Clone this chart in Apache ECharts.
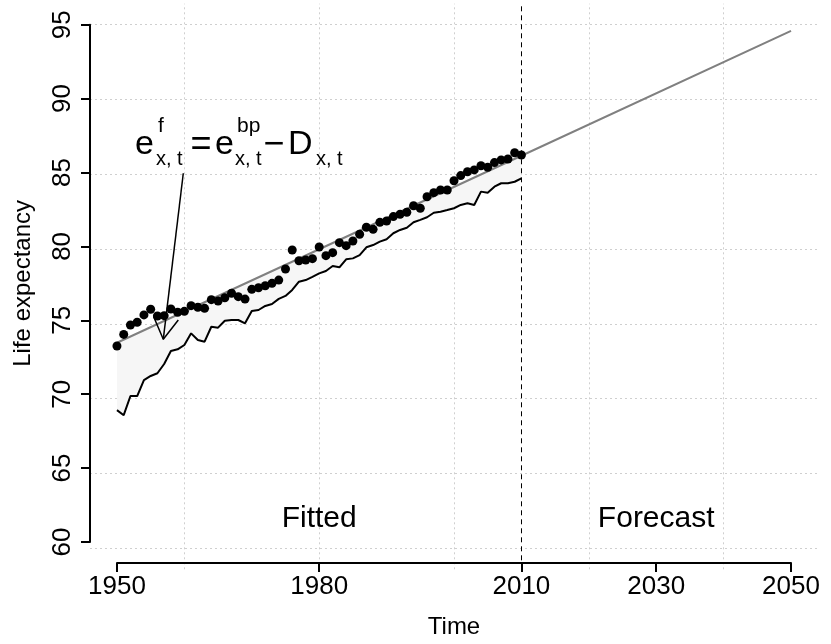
<!DOCTYPE html>
<html>
<head>
<meta charset="utf-8">
<script src="https://cdn.jsdelivr.net/npm/echarts@6/dist/echarts.min.js"></script>
<style>
  html, body { margin: 0; padding: 0; background: #fff; }
  #chart { width: 831px; height: 644px; }
</style>
</head>
<body>
<div id="chart"></div>
<script>
// data
const years = [
  1950, 1951, 1952, 1953, 1954, 1955, 1956, 1957, 1958, 1959,
  1960, 1961, 1962, 1963, 1964, 1965, 1966, 1967, 1968, 1969,
  1970, 1971, 1972, 1973, 1974, 1975, 1976, 1977, 1978, 1979,
  1980, 1981, 1982, 1983, 1984, 1985, 1986, 1987, 1988, 1989,
  1990, 1991, 1992, 1993, 1994, 1995, 1996, 1997, 1998, 1999,
  2000, 2001, 2002, 2003, 2004, 2005, 2006, 2007, 2008, 2009, 2010
]
const observed = [
  73.52, 74.30, 74.93, 75.11, 75.60, 75.98, 75.53, 75.55, 76.00, 75.78,
  75.84, 76.22, 76.11, 76.04, 76.62, 76.53, 76.75, 77.05, 76.82, 76.66,
  77.31, 77.42, 77.55, 77.71, 77.93, 78.67, 79.94, 79.22, 79.27, 79.36,
  80.14, 79.56, 79.76, 80.43, 80.23, 80.54, 80.99, 81.46, 81.32, 81.79,
  81.88, 82.17, 82.33, 82.46, 82.90, 82.73, 83.50, 83.77, 83.95, 83.95,
  84.57, 84.91, 85.17, 85.29, 85.57, 85.47, 85.78, 85.96, 86.02, 86.44, 86.29
]
const lowerBound = [
  69.24, 68.90, 70.18, 70.18, 71.25, 71.52, 71.70, 72.32, 73.19, 73.30,
  73.59, 74.37, 73.92, 73.81, 74.81, 74.75, 75.21, 75.26, 75.26, 75.04,
  75.86, 75.93, 76.20, 76.33, 76.67, 76.87, 77.27, 77.82, 77.93, 78.15,
  78.38, 78.54, 78.87, 78.78, 79.32, 79.38, 79.60, 80.12, 80.27, 80.50,
  80.66, 81.06, 81.28, 81.43, 81.79, 81.95, 82.13, 82.43, 82.50, 82.61,
  82.73, 82.95, 83.06, 82.95, 83.84, 83.77, 84.17, 84.40, 84.40, 84.50, 84.73
]
const fittedYears = [1950, 2010, 2050]
const fittedValues = [73.74, 86.24, 94.58]

const xTicks = [1950, 1980, 2010, 2030, 2050]
const gridYears = [1960, 1980, 2000, 2020, 2040]
const gridValues = [60, 65, 70, 75, 80, 85, 90, 95]
const forecastStart = 2010

const regionNames = ['Fitted', 'Forecast']
const regionYears = [1980, 2030]
const regionLevel = 62

const arrowShaft = [[1959.84, 85.07], [1956.87, 73.97]]
const arrowHead = [[1955.46, 75.46], [1956.87, 73.97], [1959.10, 75.26]]

const FONT = "'Liberation Sans', Arial, Helvetica, sans-serif"

const chart = echarts.init(document.getElementById('chart'))

const zip = (xs, ys) => xs.map((x, i) => [x, ys[i]])

// equation pieces: text, x, middle y, font size, align
const eqPieces = [
  ['e', 135, 145, 34, 'left'], ['f', 158, 126, 21, 'left'], ['x, t', 156, 159, 20, 'left'],
  ['=', 201, 145, 36, 'center'],
  ['e', 215, 145, 34, 'left'], ['bp', 237, 126, 21, 'left'], ['x, t', 235, 159, 20, 'left'],
  ['\u2212', 274, 145, 36, 'center'],
  ['D', 288, 145, 34, 'left'], ['x, t', 316, 159, 20, 'left']
]

const option = {
  animation: false,
  textStyle: { fontFamily: FONT, color: '#000' },
  grid: [
    // plot region (R style 4% padding)
    { left: 90, right: 13, top: 3.7, bottom: 74.7 },
    // axis extents 1950-2050 / 60-95
    { left: 117, right: 40, top: 24.7, bottom: 95.7 }
  ],
  xAxis: [
    {
      gridIndex: 0, type: 'value', min: 1946, max: 2054,
      axisLine: { show: false }, axisTick: { show: false },
      axisLabel: { show: false }, splitLine: { show: false }
    },
    {
      gridIndex: 1, type: 'value', min: 1950, max: 2050, position: 'bottom', offset: 21,
      axisLine: { show: true, onZero: false, lineStyle: { color: '#000', width: 2 } },
      axisTick: { show: true, length: 9, customValues: xTicks, lineStyle: { color: '#000', width: 2 } },
      axisLabel: {
        customValues: xTicks, formatter: v => String(v),
        fontSize: 26, color: '#000', margin: 11, fontFamily: FONT
      },
      splitLine: { show: false },
      name: 'Time', nameLocation: 'middle', nameGap: 52,
      nameTextStyle: { fontSize: 24, color: '#000', fontFamily: FONT }
    }
  ],
  yAxis: [
    {
      gridIndex: 0, type: 'value', min: 58.6, max: 96.4,
      axisLine: { show: false }, axisTick: { show: false },
      axisLabel: { show: false }, splitLine: { show: false }
    },
    {
      gridIndex: 1, type: 'value', min: 60, max: 95, interval: 5, offset: 27,
      axisLine: { show: true, onZero: false, lineStyle: { color: '#000', width: 2 } },
      axisTick: { show: true, length: 9, lineStyle: { color: '#000', width: 2 } },
      axisLabel: { rotate: 90, fontSize: 26, color: '#000', margin: 14, fontFamily: FONT },
      splitLine: { show: false },
      name: 'Life expectancy', nameLocation: 'middle', nameRotate: 90, nameGap: 55,
      nameTextStyle: { fontSize: 24, color: '#000', fontFamily: FONT }
    }
  ],
  series: [
    {
      // grid lines
      type: 'line', xAxisIndex: 0, yAxisIndex: 0, data: [], z: 0, silent: true,
      markLine: {
        silent: true, symbol: 'none', label: { show: false }, z: 0,
        lineStyle: { color: '#cfcfcf', type: [2, 3], width: 1 },
        data: gridYears.map(x => ({ xAxis: x })).concat(gridValues.map(v => ({ yAxis: v })))
      }
    },
    {
      // band between fitted line and lower bound
      type: 'custom', xAxisIndex: 0, yAxisIndex: 0, z: 1, silent: true,
      data: [[fittedYears[0], fittedValues[0]]],
      renderItem: function (params, api) {
        const pts = [
          api.coord([fittedYears[0], fittedValues[0]]),
          api.coord([fittedYears[1], fittedValues[1]])
        ]
        for (let i = years.length - 1; i >= 0; i--) {
          pts.push(api.coord([years[i], lowerBound[i]]))
        }
        return { type: 'polygon', shape: { points: pts }, style: { fill: '#f6f6f6', stroke: null } }
      }
    },
    {
      type: 'line', xAxisIndex: 0, yAxisIndex: 0, z: 2,
      data: zip(fittedYears, fittedValues),
      showSymbol: false, lineStyle: { color: '#808080', width: 2 }
    },
    {
      type: 'line', xAxisIndex: 0, yAxisIndex: 0, z: 3,
      data: zip(years, lowerBound),
      showSymbol: false, lineStyle: { color: '#000', width: 2 },
      markLine: {
        silent: true, symbol: 'none', label: { show: false }, z: 3,
        lineStyle: { color: '#000', type: [5, 4], width: 1 },
        data: [{ xAxis: forecastStart }]
      }
    },
    {
      type: 'scatter', xAxisIndex: 0, yAxisIndex: 0, z: 4,
      data: zip(years, observed),
      symbolSize: 9, itemStyle: { color: '#000', opacity: 1 }
    },
    {
      type: 'line', xAxisIndex: 0, yAxisIndex: 0, z: 5,
      data: arrowShaft, showSymbol: false, lineStyle: { color: '#000', width: 1.5 }
    },
    {
      type: 'line', xAxisIndex: 0, yAxisIndex: 0, z: 5,
      data: arrowHead, showSymbol: false, lineStyle: { color: '#000', width: 1.5 }
    },
    {
      // region names
      type: 'custom', xAxisIndex: 0, yAxisIndex: 0, z: 5, silent: true,
      data: regionYears.map((x, i) => [x, regionLevel, i]),
      renderItem: function (params, api) {
        const p = api.coord([api.value(0), api.value(1)])
        return {
          type: 'text', x: p[0], y: p[1],
          style: {
            text: regionNames[api.value(2)], fontSize: 30, fontFamily: FONT,
            fill: '#000', align: 'center', verticalAlign: 'middle'
          }
        }
      }
    }
  ],
  graphic: eqPieces.map(p => ({
    type: 'text', z: 10,
    x: p[1], y: p[2],
    style: {
      text: p[0], fontSize: p[3], fontFamily: FONT, fill: '#000',
      align: p[4], verticalAlign: 'middle'
    }
  }))
}

chart.setOption(option)
</script>
</body>
</html>
